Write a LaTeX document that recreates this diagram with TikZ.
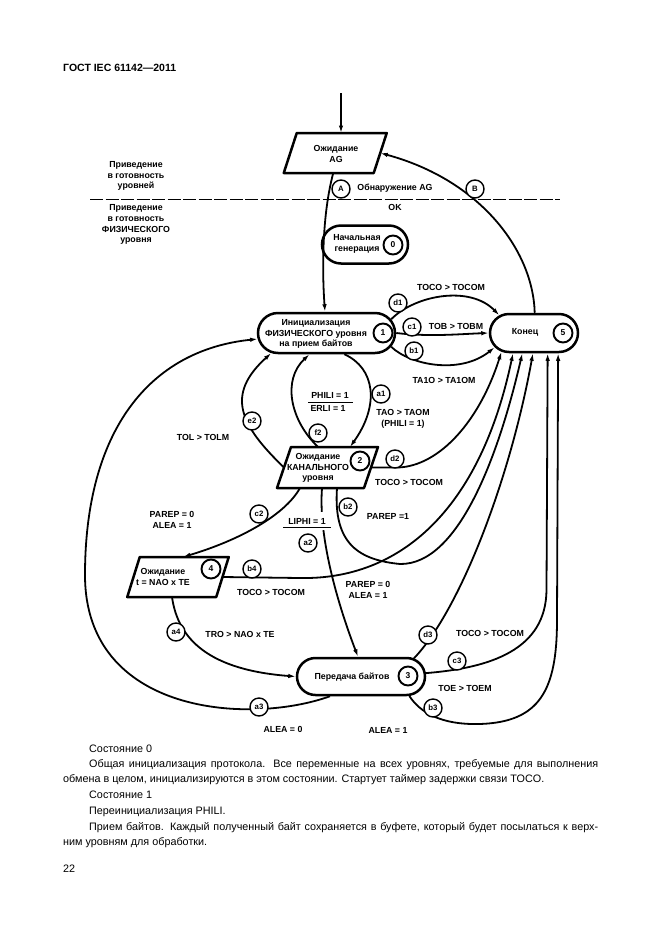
\documentclass[tikz,border=0pt]{standalone}
\usepackage{fontspec}
\setmainfont{Liberation Sans}
\usetikzlibrary{arrows.meta,shapes.misc,calc}
\newcommand\drawpgram[2]{\draw[nodeline] ([xshift=#2pt]#1.north west) -- ([xshift=#2pt]#1.north east) -- ([xshift=-#2pt]#1.south east) -- ([xshift=-#2pt]#1.south west) -- cycle;}
\begin{document}
\begin{tikzpicture}[x=1pt,y=-1pt,
  conn/.style={line width=1.8pt,-{Latex[length=7.5pt,width=4.5pt]}},
  nodeline/.style={line width=2.5pt,line join=round},
  stadium/.style={rounded rectangle,draw,line width=2.5pt,inner sep=0pt},
  pgbox/.style={rectangle,inner sep=0pt,outer sep=0pt},
  numc/.style={circle,draw,line width=1.9pt,minimum size=19pt,inner sep=0pt,fill=white,font=\fontsize{8.5}{8.5}\selectfont\bfseries},
  mk/.style={circle,draw,line width=1.4pt,minimum size=18pt,inner sep=0pt,fill=white,font=\fontsize{7.8}{7.8}\selectfont\bfseries},
  lab/.style={font=\fontsize{8.8}{10.8}\selectfont\bfseries,inner sep=0pt,align=center},
  txt/.style={font=\fontsize{10.8}{13}\selectfont,anchor=base west,inner sep=0pt},
  bar/.style={line width=1pt}]
\useasboundingbox (0,0) rectangle (661,935);
\fill[white] (0,0) rectangle (661,935);

% header
\node[font=\fontsize{10.5}{12}\selectfont\bfseries,anchor=base west,inner sep=0pt] (hdr) at (63,71) {ГОСТ IEC 61142—2011};

% left labels and separator
\node[lab] (lv1) at (136,176) {Приведение\\в готовность\\уровней};
\node[lab] (lv2) at (136,224.5) {Приведение\\в готовность\\ФИЗИЧЕСКОГО\\уровня};
\coordinate (dl) at (90,199);
\coordinate (dr) at (560,199);
\draw[dash pattern=on 13pt off 2.5pt,line width=0.9pt] (dl) -- (dr);

% states
\node[stadium,minimum width=86pt,minimum height=38pt] (n0) at (365,244.5) {};
\node[stadium,minimum width=137pt,minimum height=40pt] (n1) at (326.5,333) {};
\node[stadium,minimum width=88pt,minimum height=38pt] (n5) at (534,333) {};
\node[stadium,minimum width=128pt,minimum height=37pt] (n3) at (361,676.5) {};
\node[pgbox,minimum width=90pt,minimum height=40pt] (ag) at (335.25,153) {};
\node[pgbox,minimum width=87pt,minimum height=41pt] (n2) at (327.5,467.5) {};
\node[pgbox,minimum width=89pt,minimum height=40pt] (n4) at (178,577) {};
\drawpgram{ag}{6.5}
\drawpgram{n2}{7}
\drawpgram{n4}{6.25}

\node[lab] (n0t) at (357,244) {Начальная\\генерация};
\node[lab] (n1t) at (316,334) {Инициализация\\ФИЗИЧЕСКОГО уровня\\на прием байтов};
\node[lab] (n5t) at (525,332) {Конец};
\node[lab] (n3t) at (352,677) {Передача байтов};
\node[lab] (agt) at (336,154) {Ожидание\\AG};
\node[lab] (n2t) at (318,468) {Ожидание\\КАНАЛЬНОГО\\уровня};
\node[lab] (n4t) at (163,577) {Ожидание\\t = NAO x TE};

\node[numc] (c0) at (393,245) {0};
\node[numc] (c1n) at (383,333) {1};
\node[numc] (c5) at (563,333) {5};
\node[numc] (c2n) at (360,461) {2};
\node[numc] (c4) at (211,569) {4};
\node[numc] (c3n) at (408,676) {3};

% connectors
\coordinate (start) at (341,93);
\draw[conn] (start) -- (start |- ag.north);
\draw[conn] ([xshift=-2pt]ag.south) .. controls (322,215) and (322,270) .. ([xshift=-1.5pt]n1.north);
\draw[conn] (n5.88) .. controls (533,250) and (480,180) .. (ag.east);
\draw[conn] (n1.12) .. controls (415,295) and (470,285) .. (n5.153);
\draw[conn] (n1.east) .. controls (430,337) and (460,334) .. (n5.west);
\draw[conn] (n1.-12) .. controls (410,365) and (460,375) .. (n5.-160);
\draw[conn] (n1.-50) .. controls (375,368) and (380,405) .. ([xshift=22.5pt]n2.north);
\draw[conn] ([xshift=-9.5pt]n2.north) .. controls (290,420) and (282,380) .. ([xshift=-17pt]n1.south);
\draw[conn] (n2.west) .. controls (240,425) and (225,395) .. (n1.-160);
\draw[conn] ([xshift=-27.5pt]n2.south) .. controls (285,515) and (240,540) .. ([xshift=5pt]n4.north);
\draw[conn] ([xshift=-5.5pt]n2.south) .. controls (318,540) and (340,610) .. ([xshift=-3pt]n3.north);
\draw[conn] ([xshift=9.5pt]n2.south) .. controls (333,545) and (360,560) .. (400,564) .. controls (460,565) and (500,450) .. (n5.-120);
\draw[conn] (n2.east) -- (398,467.5) .. controls (440,466) and (480,420) .. (n5.-150);
\draw[conn] (n4.east) -- (300,578) .. controls (400,580) and (480,510) .. (n5.-136);
\draw[conn] (n3.19) .. controls (460,610) and (510,480) .. (n5.-93);
\draw[conn] (n3.3) .. controls (490,668) and (546,650) .. (546.5,590) -- (n5.-56);
\draw[conn] (n3.-22) .. controls (420,712) and (440,725) .. (480,724) .. controls (540,722) and (557,690) .. (557,620) -- (n5.-40);
\draw[conn] ([xshift=-6pt]n4.south) .. controls (178,640) and (210,670) .. (n3.west);
\draw[conn] ([xshift=-31pt]n3.south) .. controls (250,725) and (85,715) .. (85,575) .. controls (85,430) and (150,350) .. (n1.185);

% markers
\node[mk] (mA) at (341,189) {A};
\node[mk] (mB) at (475,189) {B};
\node[mk] (md1) at (398,303) {d1};
\node[mk] (mc1) at (412,327) {c1};
\node[mk] (mb1) at (414,351) {b1};
\node[mk] (ma1) at (381,394) {a1};
\node[mk] (me2) at (252,421) {e2};
\node[mk] (mf2) at (318,433) {f2};
\node[mk] (md2) at (395,459) {d2};
\node[mk] (mc2) at (259,514) {c2};
\node[mk] (mb2) at (348,507) {b2};
\node[mk] (ma2) at (308,543) {a2};
\node[mk] (mb4) at (252,569) {b4};
\node[mk] (ma4) at (176,632) {a4};
\node[mk] (ma3) at (259,707) {a3};
\node[mk] (md3) at (428,635) {d3};
\node[mk] (mc3) at (457,661) {c3};
\node[mk] (mb3) at (433,708) {b3};

% edge labels
\node[lab] (lAG) at (395,188) {Обнаружение AG};
\node[lab] (lOK) at (395,207) {OK};
\node[lab] (ld1) at (451,287) {TOCO > TOCOM};
\node[lab] (lc1) at (456,326) {TOB > TOBM};
\node[lab] (lb1) at (444,380) {TA1O > TA1OM};
\node[lab] (lphili) at (330,395) {PHILI = 1};
\node[lab] (lerli) at (328,408.5) {ERLI = 1};
\draw[bar] ([yshift=-7pt]lphili.center) ++(-22pt,0) -- ++(45pt,0);
\node[lab] (la1) at (403,419) {TAO > TAOM\\(PHILI = 1)};
\node[lab] (le2) at (203,437) {TOL > TOLM};
\node[lab] (ld2) at (409,482) {TOCO > TOCOM};
\node[lab] (lb2) at (388,516) {PAREP =1};
\node[lab] (lc2) at (172,520) {PAREP = 0\\ALEA = 1};
\node[lab,fill=white,inner ysep=5.5pt,inner xsep=2pt] (la2) at (307,521) {LIPHI = 1};
\draw[bar] ([yshift=-6pt]la2.center) ++(-24pt,0) -- ++(48pt,0);
\node[lab] (lb4) at (271,592) {TOCO > TOCOM};
\node[lab] (la2b) at (368,590) {PAREP = 0\\ALEA = 1};
\node[lab] (la4) at (240,634) {TRO > NAO x TE};
\node[lab] (ld3) at (490,633) {TOCO > TOCOM};
\node[lab] (lc3) at (465,688) {TOE > TOEM};
\node[lab] (la3) at (283,729) {ALEA = 0};
\node[lab] (lb3) at (388,730) {ALEA = 1};

% body text
\node[txt] (p1) at (89,752) {Состояние 0};
\node[txt] (p2) at (89,767) {\makebox[509pt][s]{Общая инициализация протокола. Все переменные на всех уровнях, требуемые для выполнения}};
\node[txt] (p3) at (63,782) {обмена в целом, инициализируются в этом состоянии. Стартует таймер задержки связи TOCO.};
\node[txt] (p4) at (89,798) {Состояние 1};
\node[txt] (p5) at (89,814) {Переинициализация PHILI.};
\node[txt] (p6) at (89,830) {\makebox[509pt][s]{Прием байтов. Каждый полученный байт сохраняется в буфете, который будет посылаться к верх-}};
\node[txt] (p7) at (63,845) {ним уровням для обработки.};
\node[txt] (pg) at (63,872) {22};
\end{tikzpicture}
\end{document}
